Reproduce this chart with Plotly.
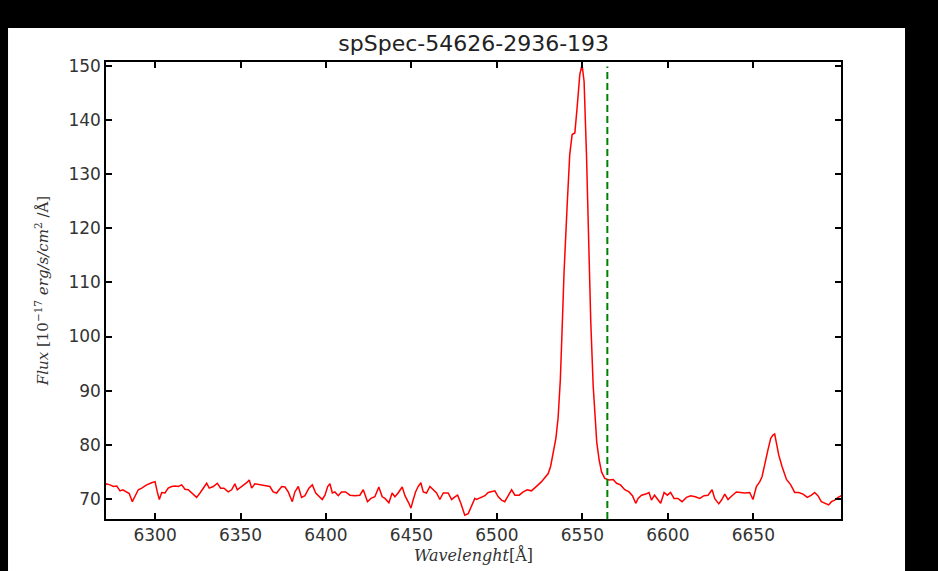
import plotly.graph_objects as go

# spectrum (wavelength in Angstrom, flux in 1e-17 erg/s/cm^2/A)
wavelength = [
    6271.0, 6271.7, 6273.6, 6275.6, 6277.6, 6279.5, 6281.1, 6283.4, 6284.9, 6286.7,
    6288.3, 6290.2, 6292.2, 6295.1, 6298.0, 6300.0, 6301.3, 6302.5, 6303.9, 6305.8,
    6307.7, 6309.7, 6311.6, 6313.6, 6315.6, 6317.5, 6319.4, 6321.4, 6324.3, 6326.3,
    6328.2, 6330.2, 6331.7, 6334.1, 6336.4, 6338.4, 6340.3, 6342.8, 6344.8, 6346.7,
    6348.1, 6350.7, 6353.6, 6355.1, 6356.5, 6358.4, 6361.4, 6364.3, 6367.2, 6369.1,
    6371.1, 6374.1, 6376.0, 6377.9, 6380.3, 6381.8, 6383.8, 6385.7, 6387.7, 6390.0,
    6392.0, 6394.0, 6395.5, 6397.8, 6399.4, 6401.0, 6402.3, 6403.7, 6405.2, 6407.2,
    6409.1, 6411.5, 6414.0, 6416.9, 6419.8, 6421.8, 6424.3, 6426.3, 6428.6, 6430.9,
    6432.9, 6434.5, 6436.8, 6438.7, 6440.3, 6442.2, 6444.6, 6446.2, 6448.5, 6449.7,
    6451.0, 6452.4, 6453.9, 6455.5, 6456.9, 6458.8, 6460.8, 6462.7, 6464.7, 6466.6,
    6468.6, 6471.5, 6473.5, 6475.4, 6477.0, 6478.9, 6481.2, 6483.2, 6485.2, 6487.1,
    6488.1, 6491.0, 6493.0, 6494.9, 6496.9, 6498.8, 6500.8, 6502.7, 6504.6, 6506.6,
    6508.6, 6510.5, 6513.0, 6515.4, 6517.7, 6520.2, 6522.2, 6524.1, 6526.1, 6528.0,
    6530.0, 6531.4, 6532.9, 6534.5, 6535.8, 6537.1, 6538.0, 6539.3, 6541.1, 6542.6,
    6544.0, 6545.6, 6546.9, 6548.5, 6549.8, 6551.0, 6552.4, 6553.9, 6554.9, 6556.3,
    6557.3, 6558.4, 6559.8, 6561.2, 6563.1, 6565.6, 6568.0, 6570.0, 6572.3, 6574.8,
    6577.3, 6579.3, 6581.2, 6582.6, 6584.6, 6587.1, 6589.0, 6590.4, 6592.2, 6594.1,
    6595.8, 6597.8, 6599.7, 6601.6, 6603.6, 6605.9, 6608.3, 6610.9, 6613.4, 6616.1,
    6618.6, 6621.2, 6623.5, 6625.9, 6627.4, 6629.8, 6631.4, 6633.3, 6635.2, 6637.5,
    6640.1, 6642.6, 6645.0, 6647.9, 6649.8, 6651.8, 6653.8, 6655.1, 6656.7, 6658.6,
    6660.2, 6661.5, 6662.5, 6663.5, 6664.9, 6666.8, 6669.4, 6671.9, 6674.2, 6676.6,
    6679.1, 6681.6, 6684.0, 6685.9, 6687.8, 6689.8, 6692.2, 6694.1, 6695.7, 6697.6,
    6699.6, 6701.5,
]
flux = [
    72.6, 72.8, 72.6, 72.3, 72.4, 71.5, 71.7, 71.3, 71.0, 69.5,
    70.4, 71.7, 72.0, 72.6, 73.0, 73.2, 71.3, 69.9, 71.2, 71.1,
    72.0, 72.3, 72.4, 72.3, 72.6, 71.8, 71.7, 71.1, 70.3, 71.1,
    72.0, 72.9, 72.0, 72.3, 72.9, 72.0, 72.0, 71.3, 71.7, 72.8,
    71.7, 72.3, 73.0, 73.5, 72.0, 72.8, 72.6, 72.4, 72.3, 71.3,
    71.1, 72.3, 72.2, 71.3, 69.5, 71.3, 72.3, 70.3, 70.6, 72.0,
    72.6, 71.1, 70.6, 69.9, 70.7, 72.3, 72.8, 71.1, 71.3, 70.6,
    71.3, 71.3, 70.7, 70.6, 70.7, 71.7, 69.5, 70.1, 70.4, 72.2,
    70.4, 70.1, 69.3, 71.1, 70.4, 71.1, 72.2, 70.6, 69.2, 68.3,
    69.8, 71.3, 72.3, 73.0, 71.3, 71.1, 72.3, 71.7, 71.1, 69.9,
    71.1, 71.1, 69.9, 70.4, 70.7, 69.2, 67.0, 67.3, 68.9, 70.1,
    69.9, 70.4, 70.6, 71.2, 71.3, 71.5, 70.4, 69.8, 69.5, 70.6,
    71.7, 70.7, 70.7, 71.3, 71.7, 71.5, 72.0, 72.6, 73.2, 74.0,
    74.7, 76.0, 78.4, 81.2, 85.0, 92.0, 100.0, 112.0, 124.3, 133.6,
    137.3, 137.6, 142.2, 148.4, 150.2, 147.1, 133.6, 115.1, 102.8, 91.0,
    85.0, 80.5, 77.2, 75.0, 73.8, 73.5, 73.6, 72.9, 72.6, 71.7,
    71.3, 70.6, 69.2, 70.1, 70.7, 70.9, 71.2, 69.8, 70.7, 70.0,
    69.2, 71.2, 70.7, 71.2, 70.1, 70.1, 69.5, 70.3, 70.6, 70.4,
    70.1, 70.6, 70.7, 71.7, 70.1, 69.1, 69.8, 70.9, 69.9, 70.6,
    71.3, 71.2, 71.1, 71.2, 69.9, 72.3, 73.2, 74.1, 76.6, 79.1,
    81.2, 81.8, 82.0, 80.3, 78.1, 76.0, 73.6, 72.6, 71.2, 71.2,
    70.9, 70.3, 70.7, 71.2, 70.6, 69.5, 69.2, 68.9, 69.5, 69.8,
    70.3, 70.6,
]

h_alpha = 6564.6  # rest-frame marker
x_ticks = [6300, 6350, 6400, 6450, 6500, 6550, 6600, 6650]
y_ticks = [70, 80, 90, 100, 110, 120, 130, 140, 150]
x_range = [6271.3, 6701.3]
y_range = [66.3, 150.7]

title = "spSpec-54626-2936-193"
x_label = "<i>Wavelenght</i>[Å]"
y_label = "<i>Flux</i> [10<sup>−17</sup> <i>erg/s/cm</i><sup>2</sup> /Å]"

fig = go.Figure()

fig.add_trace(
    go.Scatter(
        x=wavelength,
        y=flux,
        mode="lines",
        line=dict(color="#ff0000", width=1.5),
        showlegend=False,
    )
)

# vertical dashed line at H-alpha
fig.add_shape(
    type="line",
    xref="x", yref="paper",
    x0=h_alpha, x1=h_alpha, y0=0, y1=0.99,
    line=dict(color="#008000", width=2, dash="7px,4px"),
)

# white figure area on a black frame
fig.add_shape(
    type="rect",
    xref="paper", yref="paper",
    x0=-0.1333, x1=1.0871, y0=-0.1138, y1=1.0744,
    fillcolor="white",
    line=dict(width=0),
    layer="below",
)

axis_common = dict(
    showgrid=False,
    zeroline=False,
    showline=True,
    linecolor="black",
    linewidth=1.5,
    mirror="ticks",
    ticks="inside",
    ticklen=6,
    tickwidth=1.5,
    tickcolor="black",
    tickfont=dict(family="DejaVu Sans", size=17, color="#333333"),
)

fig.update_layout(
    width=938,
    height=571,
    paper_bgcolor="black",
    plot_bgcolor="white",
    margin=dict(l=106, r=97, t=62, b=52),
    title=dict(
        text=title,
        x=0.505,
        xanchor="center",
        y=1 - 43 / 571,
        yanchor="middle",
        font=dict(family="DejaVu Sans", size=22, color="#222222"),
    ),
    xaxis=dict(
        range=x_range,
        tickvals=x_ticks,
        title=dict(
            text=x_label,
            standoff=4,
            font=dict(family="DejaVu Serif", size=16, color="#333333"),
        ),
        **axis_common,
    ),
    yaxis=dict(
        range=y_range,
        tickvals=y_ticks,
        title=dict(
            text=y_label,
            standoff=16,
            font=dict(family="DejaVu Serif", size=15, color="#333333"),
        ),
        **axis_common,
    ),
)

# drop the default page margin so the figure sits at the window origin
fig.write_html(
    "out.html",
    config={"displayModeBar": False},
    post_script="document.body.style.margin='0';document.body.style.background='black';",
)
